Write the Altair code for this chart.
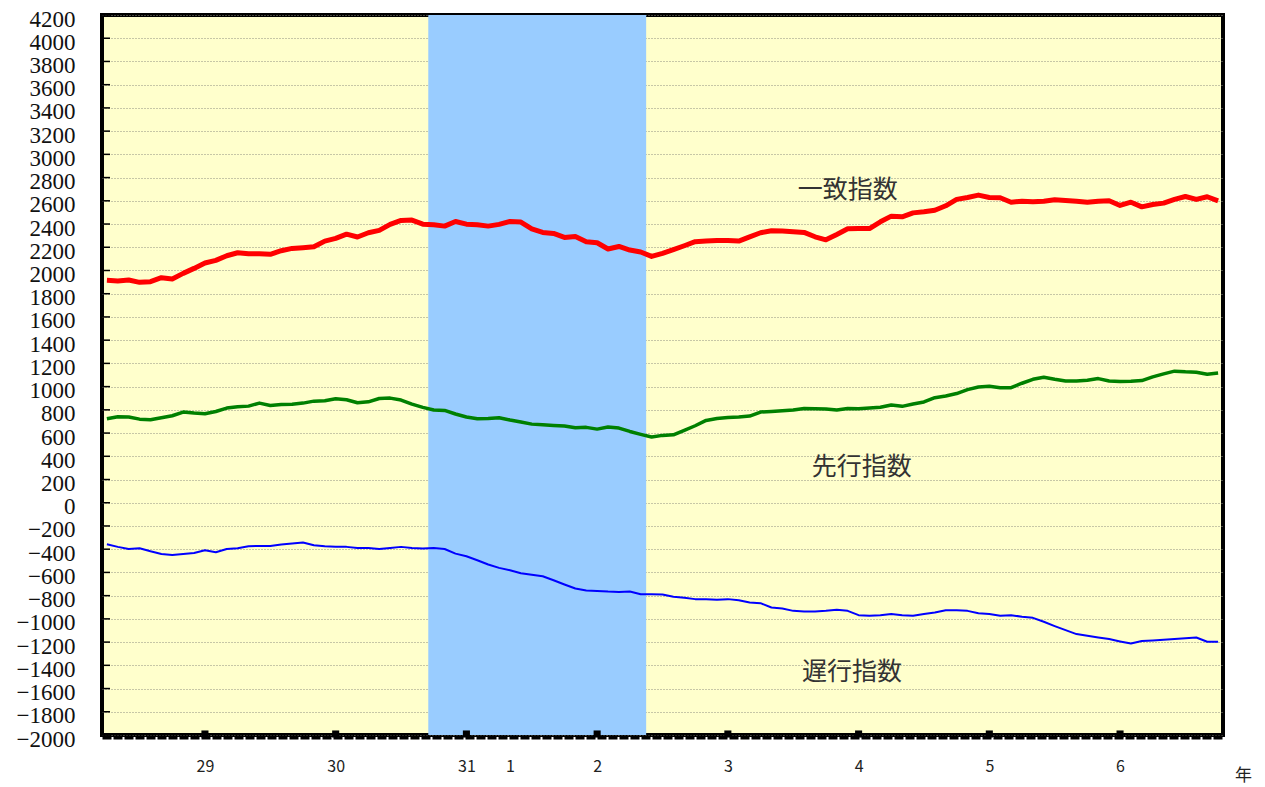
import altair as alt
import pandas as pd

# Monthly values, April 2016 (index 0) to October 2024 (index 102)
coincident = [1915, 1910, 1918, 1898, 1904, 1938, 1927, 1975, 2018, 2064, 2087, 2127, 2153, 2144, 2144, 2139, 2170, 2190, 2196, 2204, 2253, 2276, 2313, 2288, 2325, 2345, 2397, 2431, 2434, 2399, 2394, 2382, 2422, 2399, 2394,
              2382, 2397, 2422, 2417, 2359, 2328, 2319, 2285, 2293, 2248, 2239, 2185, 2207, 2176, 2159, 2121, 2147, 2179, 2213, 2248, 2253, 2259, 2259, 2253, 2290, 2325, 2342, 2339, 2333, 2328, 2290, 2264, 2310, 2359,
              2361, 2361, 2419, 2468, 2462, 2496, 2505, 2519, 2557, 2612, 2629, 2649, 2629, 2626, 2588, 2597, 2591, 2597, 2609, 2603, 2597, 2588, 2597, 2600, 2560, 2588, 2548, 2568, 2580, 2612, 2637, 2612, 2635, 2600]
leading = [723, 740, 738, 720, 715, 732, 749, 781, 772, 766, 786, 815, 826, 832, 858, 838, 846, 849, 858, 875, 878, 895, 887, 861, 869, 898, 901, 884, 849, 821, 798, 795, 764, 738, 723,
           726, 732, 712, 695, 677, 672, 666, 660, 646, 649, 634, 652, 643, 614, 589, 566, 580, 585, 623, 663, 709, 726, 735, 738, 746, 781, 786, 792, 798, 812, 809, 807, 798, 812,
           810, 816, 822, 842, 830, 850, 868, 905, 919, 940, 974, 997, 1003, 991, 991, 1029, 1063, 1081, 1063, 1049, 1049, 1055, 1069, 1049, 1043, 1046, 1052, 1084, 1110, 1133, 1127, 1124, 1107, 1118]
lagging = [-358, -380, -398, -392, -418, -441, -449, -441, -432, -409, -426, -398, -392, -375, -372, -372, -360, -352, -343, -366, -375, -380, -380, -389, -389, -398, -389, -380, -389, -395, -389, -398, -438, -461, -495,
           -532, -561, -581, -607, -621, -633, -667, -704, -739, -756, -759, -765, -768, -765, -788, -788, -790, -810, -819, -830, -830, -836, -830, -839, -859, -865, -902, -911, -931, -937, -937, -931, -922, -931,
           -968, -974, -968, -959, -968, -974, -959, -945, -925, -925, -931, -951, -959, -974, -968, -982, -991, -1025, -1062, -1097, -1131, -1146, -1160, -1174, -1194, -1212, -1191, -1186, -1180, -1174, -1166, -1160, -1197, -1197]

# x-axis labels (era years) and their month index
label_idx = [9, 21, 33, 37, 45, 57, 69, 81, 93]
label_txt = ["29", "30", "31", "1", "2", "3", "4", "5", "6"]
jan_idx = [9, 21, 33, 45, 57, 69, 81, 93]

# recession band (peak / trough month index)
recession_peak = 30
recession_trough = 49

y_ticks = list(range(-2000, 4201, 200))

series_names = ["一致指数", "先行指数", "遅行指数"]
name_x = [68.0, 69.3, 68.4]
name_y = [2689, 306, -1457]

W, H = 1121, 720
xdom = [-0.45, 102.45]
ydom = [-2000, 4200]

n = len(coincident)
idx = list(range(n))
df_c = pd.DataFrame({"m": idx, "v": coincident})
df_l = pd.DataFrame({"m": idx, "v": leading})
df_g = pd.DataFrame({"m": idx, "v": lagging})

xs = alt.Scale(domain=xdom, nice=False, zero=False)
ys = alt.Scale(domain=ydom, nice=False, zero=False)

label_expr = "".join([f"datum.value == {i} ? '{t}' : " for i, t in zip(label_idx, label_txt)]) + "''"

x_axis = alt.Axis(values=label_idx, labelExpr=label_expr, grid=False, ticks=False,
                  domain=True, domainColor="black", domainWidth=4, domainDash=[9, 2], offset=2,
                  labelFont="Noto Sans CJK JP", labelFontSize=16, labelColor="#222",
                  labelPadding=21, labelFlush=False, labelOverlap=False,
                  title="年", titleFont="Noto Sans CJK JP", titleFontSize=17, titleFontWeight="normal",
                  titleColor="#222", titleX=1141, titleY=38, titleAlign="center", titleBaseline="middle",
                  titleAngle=0)
y_axis = alt.Axis(values=y_ticks, format="d", labelExpr="replace(datum.label, '-', '\u2212')",
                  grid=True, gridColor="#8f8f80", gridDash=[1, 2], gridWidth=1,
                  ticks=False, domain=False,
                  labelFont="Liberation Serif", labelFontWeight="normal",
                  labelFontSize=23, labelColor="#111", labelPadding=27, labelOffset=4,
                  labelFlush=False, labelOverlap=False, title=None)


def X(field):
    return alt.X(field, scale=xs, axis=x_axis)


def Y(field):
    return alt.Y(field, scale=ys, axis=y_axis)


band = alt.Chart(pd.DataFrame({"a": [recession_peak - 0.5], "b": [recession_trough + 0.5]})).mark_rect(
    color="#99ccff", opacity=1).encode(
    x=X("a:Q"), x2="b:Q",
    y=alt.value(0), y2=alt.value(H))

# short inward ticks on the left edge
ticks_y = alt.Chart(pd.DataFrame({"t": y_ticks})).mark_rule(color="black", strokeWidth=1.5).encode(
    y=Y("t:Q"), x=alt.value(0), x2=alt.value(8))

line_c = alt.Chart(df_c).mark_line(color="#ff0000", strokeWidth=5, strokeJoin="round").encode(
    x=X("m:Q"), y=Y("v:Q"))
line_l = alt.Chart(df_l).mark_line(color="#008000", strokeWidth=3.5, strokeJoin="round").encode(
    x=X("m:Q"), y=Y("v:Q"))
line_g = alt.Chart(df_g).mark_line(color="#0000ff", strokeWidth=2, strokeJoin="round").encode(
    x=X("m:Q"), y=Y("v:Q"))

names = alt.Chart(pd.DataFrame({"n": series_names, "x": name_x, "y": name_y})).mark_text(
    font="Noto Sans CJK JP", fontSize=25, color="#333", fontWeight="normal").encode(
    x=X("x:Q"), y=Y("y:Q"), text="n:N")

jan_marks = alt.Chart(pd.DataFrame({"m": jan_idx, "v": [ydom[0]] * len(jan_idx)})).mark_square(
    color="black", size=50, opacity=1, yOffset=-1).encode(
    x=X("m:Q"), y=Y("v:Q"))

chart = alt.layer(band, ticks_y, line_g, line_l, line_c, names, jan_marks).properties(
    width=W, height=H,
    padding={"left": 94, "top": 7, "right": 30, "bottom": 52},
    autosize=alt.AutoSizeParams(type="none"),
    background="white",
).configure_view(fill="#ffffcc", stroke="black", strokeWidth=4)

chart.save("out.html", embed_options={"renderer": "svg", "actions": False})
